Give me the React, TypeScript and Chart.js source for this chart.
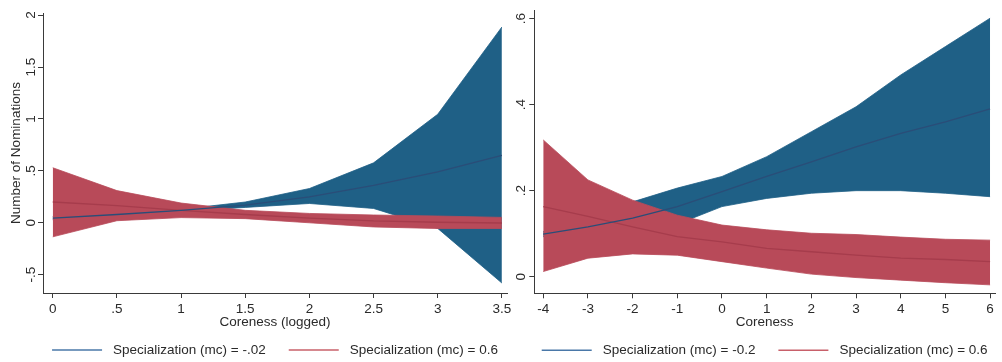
import React, { useEffect, useRef } from 'react';
import { Chart, registerables } from 'chart.js';

Chart.register(...registerables);

// ---------- Left panel data (Coreness logged) ----------
const xL = [0, 0.5, 1, 1.5, 2, 2.5, 3, 3.5];
const blueMidL = [0.045, 0.08, 0.12, 0.17, 0.25, 0.36, 0.49, 0.65];
const blueUpL = [0.06, 0.09, 0.13, 0.2, 0.33, 0.577, 1.045, 1.885];
const blueLoL = [0.03, 0.07, 0.11, 0.148, 0.186, 0.138, -0.054, -0.58];
const redMidL = [0.2, 0.165, 0.12, 0.08, 0.045, 0.018, 0.005, -0.002];
const redUpL = [0.53, 0.31, 0.19, 0.12, 0.09, 0.075, 0.065, 0.052];
const redLoL = [-0.135, 0.02, 0.05, 0.04, 0.0, -0.04, -0.055, -0.055];
const xTicksL = [0, 0.5, 1, 1.5, 2, 2.5, 3, 3.5];
const xTickLabelsL = ['0', '.5', '1', '1.5', '2', '2.5', '3', '3.5'];
const yTicksL = [-0.5, 0, 0.5, 1, 1.5, 2];
const yTickLabelsL = ['-.5', '0', '.5', '1', '1.5', '2'];
const legendL = ['Specialization (mc) = -.02', 'Specialization (mc) = 0.6'];

// ---------- Right panel data (Coreness) ----------
const xR = [-4, -3, -2, -1, 0, 1, 2, 3, 4, 5, 6];
const blueMidR = [0.099, 0.116, 0.136, 0.163, 0.198, 0.233, 0.267, 0.302, 0.333, 0.36, 0.39];
const blueUpR = [0.105, 0.13, 0.174, 0.206, 0.233, 0.279, 0.337, 0.395, 0.469, 0.535, 0.601];
const blueLoR = [0.093, 0.102, 0.098, 0.122, 0.163, 0.182, 0.194, 0.2, 0.2, 0.194, 0.186];
const redMidR = [0.163, 0.14, 0.116, 0.093, 0.081, 0.066, 0.058, 0.05, 0.043, 0.04, 0.035];
const redUpR = [0.318, 0.225, 0.178, 0.143, 0.12, 0.109, 0.101, 0.098, 0.092, 0.087, 0.085];
const redLoR = [0.012, 0.043, 0.053, 0.05, 0.035, 0.02, 0.006, -0.002, -0.008, -0.014, -0.019];
const xTicksR = [-4, -3, -2, -1, 0, 1, 2, 3, 4, 5, 6];
const xTickLabelsR = ['-4', '-3', '-2', '-1', '0', '1', '2', '3', '4', '5', '6'];
const yTicksR = [0, 0.2, 0.4, 0.6];
const yTickLabelsR = ['0', '.2', '.4', '.6'];
const legendR = ['Specialization (mc) = -0.2', 'Specialization (mc) = 0.6'];

const FONT = "'Liberation Sans', Arial, Helvetica, sans-serif";
const TEXT = '#2a2a2a';
const AXIS = '#3a3a3a';
const BLUE_BAND = '#1f6086';
const RED_BAND = '#b84a59';
const BLUE_LINE = '#2a4d78';
const RED_LINE = '#a63c4c';
const LEGEND_BLUE = '#4a78a8';
const LEGEND_RED = '#c8606a';

const pts = (xs: number[], ys: number[]) => xs.map((x, i) => ({ x, y: ys[i] }));

const yLabelPlugin = {
  id: 'yRotLabels',
  afterDraw(chart: any) {
    const opts = chart.options.plugins.yRotLabels;
    const ys = chart.scales.y;
    const ctx = chart.ctx;
    ctx.save();
    ctx.fillStyle = TEXT;
    ctx.font = `13.5px ${FONT}`;
    ctx.textAlign = 'center';
    ctx.textBaseline = 'middle';
    opts.values.forEach((v: number, i: number) => {
      const py = ys.getPixelForValue(v);
      ctx.save();
      ctx.translate(ys.right - opts.offset, py);
      ctx.rotate(-Math.PI / 2);
      ctx.fillText(opts.labels[i], 0, 0);
      ctx.restore();
    });
    ctx.restore();
  },
};

// Stata-style legend: short line key + text, centred under the plot area
const legendPlugin = {
  id: 'stataLegend',
  afterDraw(chart: any) {
    const opts = chart.options.plugins.stataLegend;
    const ctx = chart.ctx;
    const area = chart.chartArea;
    ctx.save();
    ctx.font = `13.5px ${FONT}`;
    const lineLen = 50;
    const gapText = 11;
    const gapItems = 23;
    const widths = opts.items.map((it: any) => ctx.measureText(it.text).width);
    let total = 0;
    widths.forEach((w: number, i: number) => { total += lineLen + gapText + w + (i > 0 ? gapItems : 0); });
    let x = (area.left + area.right) / 2 - total / 2;
    const y = area.bottom + opts.dy;
    opts.items.forEach((it: any, i: number) => {
      ctx.strokeStyle = it.color;
      ctx.lineWidth = 1.6;
      ctx.beginPath();
      ctx.moveTo(x, y);
      ctx.lineTo(x + lineLen, y);
      ctx.stroke();
      x += lineLen + gapText;
      ctx.fillStyle = TEXT;
      ctx.textAlign = 'left';
      ctx.textBaseline = 'middle';
      ctx.fillText(it.text, x, y);
      x += widths[i] + gapItems;
    });
    ctx.restore();
  },
};

function makeConfig(p: any): any {
  return {
    type: 'line',
    data: {
      datasets: [
        { label: p.legend[0], data: pts(p.x, p.blueMid), borderColor: BLUE_LINE, backgroundColor: BLUE_LINE, borderWidth: 1.3, pointRadius: 0, fill: false, order: 0 },
        { label: p.legend[1], data: pts(p.x, p.redMid), borderColor: RED_LINE, backgroundColor: RED_LINE, borderWidth: 1.3, pointRadius: 0, fill: false, order: 1 },
        { label: 'red upper', data: pts(p.x, p.redUp), borderColor: RED_BAND, backgroundColor: RED_BAND, borderWidth: 0.8, pointRadius: 0, fill: '+1', order: 2 },
        { label: 'red lower', data: pts(p.x, p.redLo), borderColor: RED_BAND, backgroundColor: RED_BAND, borderWidth: 0.8, pointRadius: 0, fill: false, order: 3 },
        { label: 'blue upper', data: pts(p.x, p.blueUp), borderColor: BLUE_BAND, backgroundColor: BLUE_BAND, borderWidth: 0.8, pointRadius: 0, fill: '+1', order: 4 },
        { label: 'blue lower', data: pts(p.x, p.blueLo), borderColor: BLUE_BAND, backgroundColor: BLUE_BAND, borderWidth: 0.8, pointRadius: 0, fill: false, order: 5 },
      ],
    },
    options: {
      animation: false,
      responsive: false,
      maintainAspectRatio: false,
      layout: { padding: { top: p.padTop, right: p.padRight, left: 0, bottom: 30 } },
      scales: {
        x: {
          type: 'linear',
          min: p.xMin,
          max: p.xMax,
          afterBuildTicks: (s: any) => { s.ticks = p.xTicks.map((v: number) => ({ value: v })); },
          afterFit: (s: any) => { s.height = p.xHeight; },
          ticks: {
            autoSkip: false,
            maxRotation: 0,
            minRotation: 0,
            padding: 3,
            color: TEXT,
            font: { family: FONT, size: 13.5 },
            callback: (_v: any, i: number) => p.xTickLabels[i],
          },
          grid: { display: true, drawOnChartArea: false, drawTicks: true, tickLength: 5, color: AXIS, lineWidth: 1 },
          border: { display: true, color: AXIS, width: 1 },
          title: { display: true, text: p.xTitle, color: TEXT, font: { family: FONT, size: 13.5 }, padding: { top: 0, bottom: 2 } },
        },
        y: {
          type: 'linear',
          min: p.yMin,
          max: p.yMax,
          afterBuildTicks: (s: any) => { s.ticks = p.yTicks.map((v: number) => ({ value: v })); },
          afterFit: (s: any) => { s.width = p.yWidth; },
          ticks: { display: false },
          grid: { display: true, drawOnChartArea: false, drawTicks: true, tickLength: 5, color: AXIS, lineWidth: 1 },
          border: { display: true, color: AXIS, width: 1 },
          title: { display: !!p.yTitle, text: p.yTitle || '', color: TEXT, font: { family: FONT, size: 13.5 }, padding: { top: 8.6, bottom: 0 } },
        },
      },
      plugins: {
        legend: { display: false },
        tooltip: { enabled: false },
        yRotLabels: { values: p.yTicks, labels: p.yTickLabels, offset: p.yLabelOffset },
        stataLegend: {
          dy: 57,
          items: [
            { text: p.legend[0], color: LEGEND_BLUE },
            { text: p.legend[1], color: LEGEND_RED },
          ],
        },
      },
    },
    plugins: [yLabelPlugin, legendPlugin],
  };
}

const panelL = {
  x: xL, blueMid: blueMidL, blueUp: blueUpL, blueLo: blueLoL, redMid: redMidL, redUp: redUpL, redLo: redLoL,
  xMin: -0.076, xMax: 3.54, yMin: -0.676, yMax: 2.02,
  xTicks: xTicksL, xTickLabels: xTickLabelsL, yTicks: yTicksL, yTickLabels: yTickLabelsL,
  xTitle: 'Coreness (logged)', yTitle: 'Number of Nominations', legend: legendL,
  padTop: 13, padRight: 13, yWidth: 43, yLabelOffset: 12, xHeight: 39,
};

const panelR = {
  x: xR, blueMid: blueMidR, blueUp: blueUpR, blueLo: blueLoR, redMid: redMidR, redUp: redUpR, redLo: redLoR,
  xMin: -4.2, xMax: 6.11, yMin: -0.0386, yMax: 0.62,
  xTicks: xTicksR, xTickLabels: xTickLabelsR, yTicks: yTicksR, yTickLabels: yTickLabelsR,
  xTitle: 'Coreness', yTitle: '', legend: legendR,
  padTop: 10, padRight: 7, yWidth: 26.3, yLabelOffset: 13, xHeight: 38.7,
};

function Panel({ cfg, left, width }: { cfg: any; left: number; width: number }) {
  const ref = useRef<HTMLCanvasElement>(null);
  useEffect(() => {
    if (!ref.current) return;
    const chart = new Chart(ref.current, makeConfig(cfg));
    return () => chart.destroy();
  }, [cfg]);
  return (
    <canvas
      ref={ref}
      width={width}
      height={362}
      style={{ position: 'absolute', left, top: 0, width, height: 362 }}
    />
  );
}

export default function App() {
  return (
    <div style={{ position: 'fixed', left: 0, top: 0, width: 1002, height: 362, overflow: 'hidden', background: '#ffffff' }}>
      <Panel cfg={panelL} left={0} width={520} />
      <Panel cfg={panelR} left={508} width={494} />
    </div>
  );
}
